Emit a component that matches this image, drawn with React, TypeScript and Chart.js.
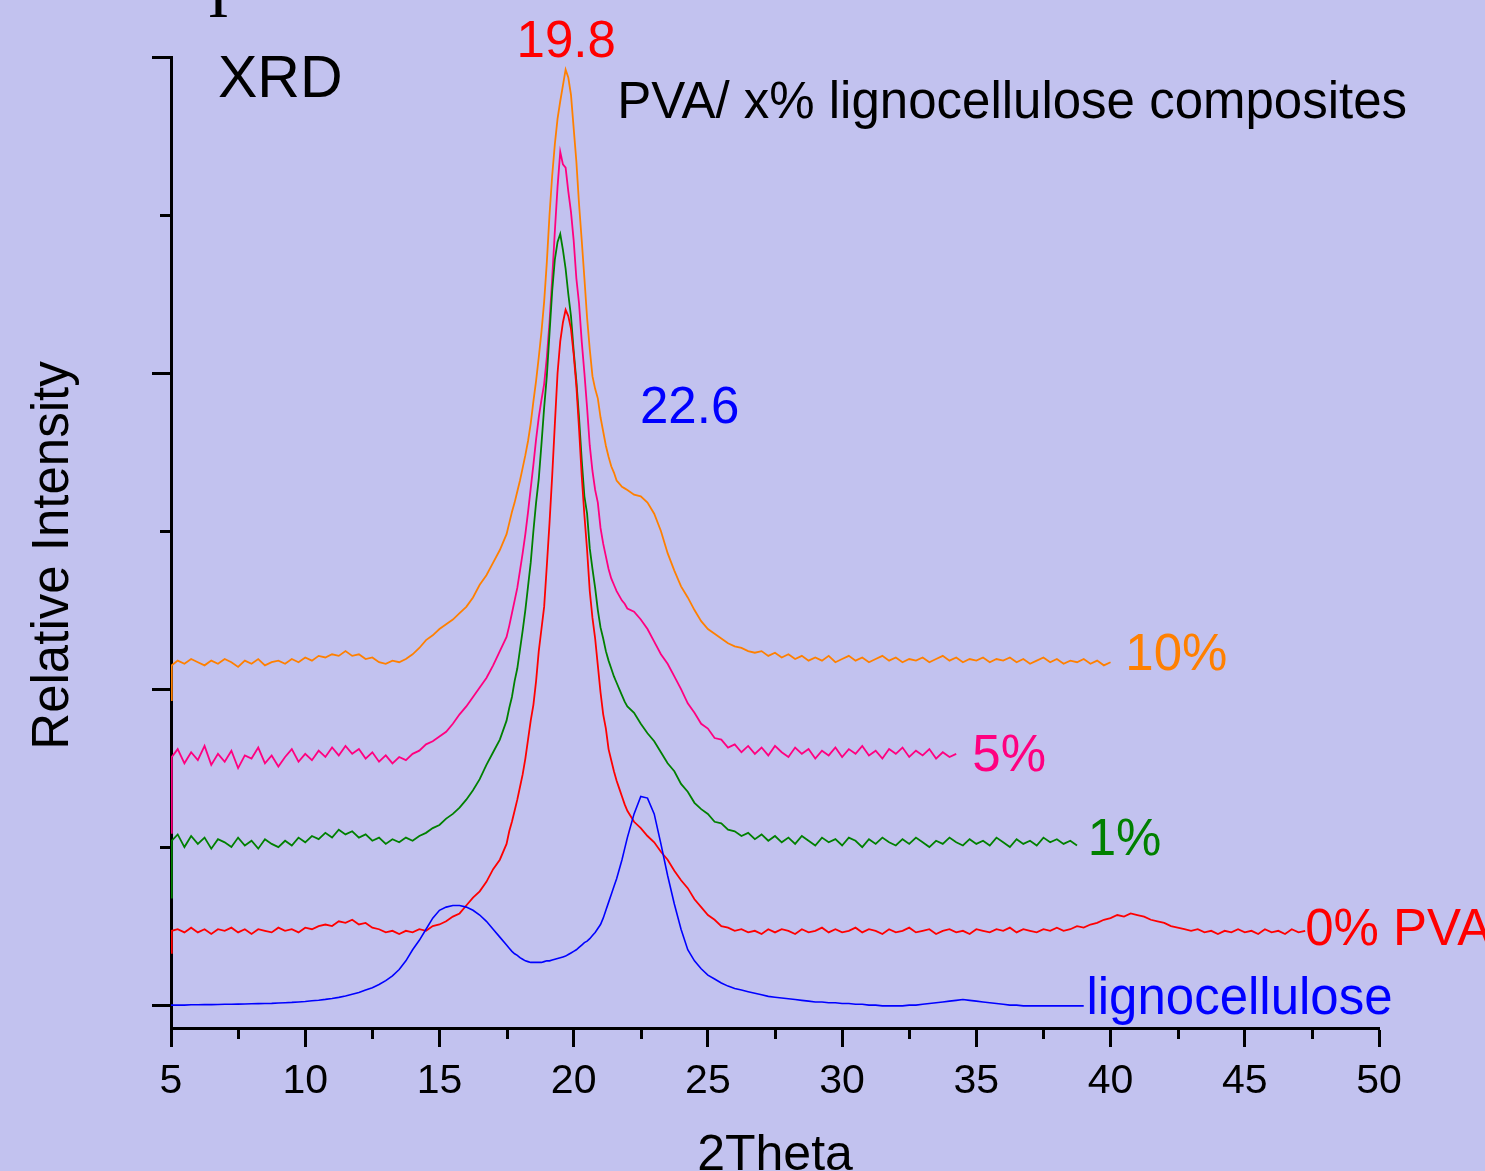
import React, { useEffect, useRef } from "react";
import { Chart, registerables } from "chart.js";

Chart.register(...registerables);

const FONT = '"Liberation Sans", Arial, Helvetica, sans-serif';

// 2Theta grid (degrees), in three segments
const X_A = [5, 5.03,
  5.25, 5.5, 5.75, 6,
  6.25, 6.5, 6.75, 7,
  7.25, 7.5, 7.75, 8,
  8.25, 8.5, 8.75, 9,
  9.25, 9.5, 9.75, 10,
  10.25, 10.5, 10.75, 11,
  11.25, 11.5, 11.75, 12,
  12.25, 12.5, 12.75, 13,
  13.25, 13.5, 13.75, 14,
  14.25, 14.5, 14.75, 15,
  15.25, 15.5, 15.75, 16,
  16.25, 16.5, 16.75, 17,
  17.25];
const X_B = [17.5, 17.6, 17.7, 17.8, 17.9,
  18.0, 18.1, 18.2, 18.3, 18.4,
  18.5, 18.6, 18.7, 18.8, 18.9,
  19.0, 19.1, 19.2, 19.3, 19.4,
  19.5, 19.6, 19.7, 19.8, 19.9,
  20.0, 20.1, 20.2, 20.3, 20.4,
  20.5, 20.6, 20.7, 20.8, 20.9,
  21.0, 21.1, 21.2, 21.3, 21.4,
  21.5, 21.6, 21.7, 21.8, 21.9,
  22.0];
const X_C = [22.25, 22.5, 22.75, 23,
  23.25, 23.5, 23.75, 24,
  24.25, 24.5, 24.75, 25,
  25.25, 25.5, 25.75, 26,
  26.25, 26.5, 26.75, 27,
  27.25, 27.5, 27.75, 28,
  28.25, 28.5, 28.75, 29,
  29.25, 29.5, 29.75, 30,
  30.25, 30.5, 30.75, 31,
  31.25, 31.5, 31.75, 32,
  32.25, 32.5, 32.75, 33,
  33.25, 33.5, 33.75, 34,
  34.25, 34.5, 34.75, 35,
  35.25, 35.5, 35.75, 36,
  36.25, 36.5, 36.75, 37,
  37.25, 37.5, 37.75, 38,
  38.25, 38.5, 38.75, 39,
  39.25, 39.5, 39.75, 40,
  40.25, 40.5, 40.75, 41,
  41.25, 41.5, 41.75, 42,
  42.25, 42.5, 42.75, 43,
  43.25, 43.5, 43.75, 44,
  44.25, 44.5, 44.75, 45,
  45.25, 45.5, 45.75, 46,
  46.25, 46.5, 46.75, 47,
  47.25];

// lignocellulose (blue)
const LIGNO_A = [0, 0,
  0, 0, 0.2, 0.2,
  0.3, 0.3, 0.4, 0.5,
  0.5, 0.6, 0.7, 0.8,
  0.9, 1, 1.1, 1.3,
  1.5, 1.7, 2, 2.3,
  2.7, 3.1, 3.6, 4.2,
  4.9, 5.7, 6.8, 8,
  9.5, 11, 13, 15.5,
  18.5, 22.5, 28, 35,
  41, 48, 55, 60,
  62, 63, 63, 62,
  60, 57, 53, 48,
  43];
const LIGNO_B = [38, 36, 34, 32.5, 31.5,
  30, 29, 28, 27.5, 27,
  27, 27, 27, 27, 27.5,
  28, 28, 28.5, 29, 29.5,
  30, 30.5, 31, 32, 33,
  34, 35, 36.5, 38, 39.5,
  40.5, 42, 44, 46, 48.5,
  51, 55, 60, 65, 70,
  75, 80, 86, 92, 99,
  106];
const LIGNO_C = [121, 132, 131, 121,
  102, 82, 64, 48,
  35, 28, 23, 19,
  16.5, 14, 12, 10.5,
  9.5, 8.5, 7.5, 6.5,
  5.5, 5, 4.5, 4,
  3.5, 3, 2.5, 2,
  2, 1.5, 1.5, 1,
  1, 0.5, 0.5, 0,
  0, -0.5, -0.5, -0.5,
  -0.5, 0, 0, 0.5,
  1, 1.5, 2, 2.5,
  3, 3.5, 3, 2.5,
  2, 1.5, 1, 0.5,
  0, 0, -0.5, -0.5,
  -0.5, -0.5, -0.5, -0.5,
  -0.5, -0.5, -0.5, -0.5];

// 0% PVA (red)
const PVA0_A = [33, 47,
  48, 46, 49, 46,
  48, 45, 48, 47,
  49, 46, 48, 45,
  48, 47, 46, 49,
  47, 48, 46, 49,
  48, 50, 51, 50,
  53, 52, 54, 51,
  52, 49, 48, 46,
  47, 45, 47, 46,
  48, 47, 50, 51,
  53, 56, 58, 63,
  68, 72, 78, 86,
  92];
const PVA0_B = [102, 110, 116, 123, 130,
  138, 146, 156, 168, 180,
  190, 205, 224, 238, 252,
  278, 305, 335, 368, 400,
  420, 432, 440, 436, 428,
  412, 392, 365, 335, 310,
  288, 262, 245, 232, 215,
  198, 184, 175, 162, 155,
  148, 142, 137, 132, 127,
  123];
const PVA0_C = [116, 112, 107, 103,
  97, 92, 85, 79,
  74, 67, 62, 57,
  54, 50, 49, 47,
  48, 46, 47, 45,
  48, 46, 48, 47,
  45, 48, 46, 47,
  49, 46, 48, 46,
  47, 49, 46, 48,
  47, 45, 48, 46,
  47, 49, 46, 47,
  48, 45, 47, 48,
  46, 47, 45, 48,
  47, 46, 48, 47,
  49, 46, 48, 47,
  46, 48, 47, 49,
  47, 48, 50, 49,
  51, 52, 54, 55,
  57, 56, 58, 57,
  56, 54, 53, 52,
  50, 49, 48, 47,
  48, 46, 47, 45,
  47, 46, 48, 46,
  47, 45, 48, 46,
  47, 45, 48, 46,
  47];

// 1% (green)
const P1_A = [68, 104,
  108, 100, 107, 102,
  106, 99, 105, 103,
  100, 106, 101, 104,
  99, 105, 102, 100,
  104, 101, 106, 103,
  107, 105, 109, 106,
  111, 108, 110, 106,
  108, 104, 106, 102,
  105, 103, 106, 104,
  107, 109, 112, 114,
  118, 121, 125, 130,
  136, 143, 152, 160,
  168];
const P1_B = [180, 188, 195, 205, 213,
  225, 237, 250, 265, 280,
  300, 318, 333, 355, 378,
  398, 425, 452, 472, 483,
  488, 478, 466, 450, 436,
  414, 395, 372, 345, 322,
  311, 289, 276, 264, 250,
  239, 232, 224, 218, 213,
  208, 204, 200, 196, 192,
  189];
const P1_C = [185, 178, 172, 167,
  160, 153, 148, 140,
  135, 128, 124, 121,
  116, 115, 111, 110,
  107, 109, 105, 108,
  104, 107, 103, 106,
  102, 107, 104, 101,
  106, 103, 105, 101,
  106, 104, 100, 105,
  102, 106, 103, 101,
  105, 102, 106, 103,
  100, 104, 102, 106,
  103, 101, 105, 102,
  104, 101, 106, 103,
  100, 105, 102, 104,
  101, 106, 103, 105,
  102, 104, 101];

// 5% (pink)
const P5_A = [109, 157,
  162, 153, 160, 155,
  164, 152, 159, 154,
  161, 150, 158, 156,
  163, 153, 158, 151,
  157, 162, 154, 159,
  155, 161, 157, 163,
  158, 164, 159, 162,
  156, 160, 154, 158,
  153, 157, 155, 159,
  161, 165, 167, 170,
  173, 178, 184, 189,
  195, 201, 207, 215,
  224];
const P5_B = [233, 240, 248, 256, 264,
  275, 286, 298, 312, 327,
  342, 358, 372, 383, 393,
  410, 432, 460, 490, 518,
  540, 532, 530, 515, 502,
  484, 460, 444, 420, 400,
  378, 354, 338, 326, 318,
  302, 292, 284, 276, 270,
  266, 262, 259, 256, 254,
  251];
const P5_C = [249, 244, 238, 230,
  222, 216, 208, 200,
  191, 185, 178, 175,
  169, 168, 163, 165,
  160, 164, 159, 163,
  158, 164, 160, 157,
  163, 159, 162, 156,
  161, 158, 163, 157,
  162, 159, 164, 158,
  161, 156, 162, 159,
  163, 157, 161, 158,
  162, 156, 160, 157,
  159];

// 10% (orange)
const P10_A = [193, 215,
  218, 216, 219, 217,
  215, 218, 216, 219,
  217, 214, 218, 216,
  219, 215, 217, 218,
  216, 219, 217, 220,
  218, 221, 220, 222,
  221, 224, 221, 222,
  219, 220, 217, 216,
  218, 217, 219, 222,
  226, 231, 234, 238,
  241, 244, 248, 252,
  258, 266, 272, 280,
  288];
const P10_B = [298, 305, 312, 318, 325,
  332, 340, 348, 357, 368,
  382, 395, 410, 426, 445,
  470, 500, 525, 545, 561,
  572, 582, 592, 587, 576,
  555, 534, 507, 484, 460,
  435, 415, 398, 390, 384,
  372, 363, 354, 347, 341,
  337, 332, 330, 328, 327,
  326];
const P10_C = [323, 322, 318, 311,
  300, 286, 275, 265,
  258, 250, 243, 238,
  235, 232, 229, 227,
  226, 224, 223, 224,
  221, 223, 220, 222,
  219, 221, 218, 220,
  218, 221, 217, 219,
  221, 218, 220, 217,
  219, 221, 218, 220,
  217, 219, 218, 220,
  217, 219, 221, 218,
  220, 217, 219, 218,
  220, 217, 219, 218,
  220, 217, 219, 216,
  218, 220, 217, 219,
  216, 218, 217, 219,
  216, 218, 215, 217];

const SERIES_NAMES = ["lignocellulose", "0% PVA", "1%", "5%", "10%"];
const SERIES_COLORS = ["#0000FF", "#FF0000", "#008000", "#FF0080", "#FF8000"];

const X_TICKS = [5, 10, 15, 20, 25, 30, 35, 40, 45, 50];
const X_MINOR = [7.5, 12.5, 17.5, 22.5, 27.5, 32.5, 37.5, 42.5, 47.5];
const Y_TICKS = [0, 200, 400, 600];
const Y_MINOR = [100, 300, 500];

// annotation texts and their data-space anchors
const NOTE_TEXT = ["19.8", "22.6", "XRD", "PVA/ x% lignocellulose composites", "10%", "5%", "1%", "0% PVA", "lignocellulose"];
const NOTE_X = [19.72, 24.32, 6.75, 21.62, 40.55, 34.85, 39.15, 47.25, 39.1];
const NOTE_Y = [609, 377, 585, 570, 221, 157, 104, 47, 3];
const NOTE_COLOR = ["#FF0000", "#0000FF", "#000000", "#000000", "#FF8000", "#FF0080", "#008000", "#FF0000", "#0000FF"];
const NOTE_ALIGN = ["center", "center", "left", "left", "left", "left", "left", "left", "left"];
const NOTE_SIZE = [51, 51, 59, 51, 51, 51, 51, 51, 51];

function build(a: number[], b: number[], c: number[]) {
  return [
    ...a.map((y, i) => ({ x: X_A[i], y })),
    ...b.map((y, i) => ({ x: X_B[i], y })),
    ...c.map((y, i) => ({ x: X_C[i], y })),
  ];
}

const SERIES_DATA = [
  build(LIGNO_A, LIGNO_B, LIGNO_C),
  build(PVA0_A, PVA0_B, PVA0_C),
  build(P1_A, P1_B, P1_C),
  build(P5_A, P5_B, P5_C),
  build(P10_A, P10_B, P10_C),
];

const decorPlugin = {
  id: "decor",
  afterDraw(chart: any) {
    const { ctx, chartArea } = chart;
    const xs = chart.scales.x;
    const ys = chart.scales.y;
    ctx.save();
    // minor ticks
    ctx.strokeStyle = "#000";
    ctx.lineWidth = 3;
    X_MINOR.forEach((v) => {
      const px = Math.round(xs.getPixelForValue(v)) + 0.5;
      ctx.beginPath();
      ctx.moveTo(px, chartArea.bottom);
      ctx.lineTo(px, chartArea.bottom + 11);
      ctx.stroke();
    });
    Y_MINOR.forEach((v) => {
      const py = Math.round(ys.getPixelForValue(v)) + 0.5;
      ctx.beginPath();
      ctx.moveTo(chartArea.left - 11, py);
      ctx.lineTo(chartArea.left, py);
      ctx.stroke();
    });
    // annotations
    ctx.textBaseline = "middle";
    NOTE_TEXT.forEach((t, i) => {
      ctx.font = `${NOTE_SIZE[i]}px ${FONT}`;
      ctx.fillStyle = NOTE_COLOR[i];
      ctx.textAlign = NOTE_ALIGN[i];
      ctx.fillText(t, xs.getPixelForValue(NOTE_X[i]), ys.getPixelForValue(NOTE_Y[i]));
    });
    // y axis title
    ctx.save();
    ctx.translate(chartArea.left - 117, (chartArea.top + chartArea.bottom) / 2 + 13);
    ctx.rotate(-Math.PI / 2);
    ctx.font = `51px ${FONT}`;
    ctx.fillStyle = "#000";
    ctx.textAlign = "center";
    ctx.textBaseline = "middle";
    ctx.fillText("Relative Intensity", 0, 0);
    ctx.restore();
    // clipped serif glyph at top edge
    ctx.font = `64px "Liberation Serif", "Times New Roman", serif`;
    ctx.fillStyle = "#000";
    ctx.textAlign = "center";
    ctx.textBaseline = "alphabetic";
    ctx.fillText("I", xs.getPixelForValue(6.77), 17);
    ctx.restore();
  },
};

export default function App() {
  const ref = useRef<HTMLCanvasElement | null>(null);
  useEffect(() => {
    if (!ref.current) return;
    const chart = new Chart(ref.current, {
      type: "line",
      data: {
        datasets: SERIES_DATA.map((d, i) => ({
          label: SERIES_NAMES[i],
          data: d,
          borderColor: SERIES_COLORS[i],
          backgroundColor: SERIES_COLORS[i],
          borderWidth: i === 0 ? 1.6 : 1.8,
          pointRadius: 0,
          tension: 0,
          fill: false,
        })),
      },
      options: {
        responsive: false,
        animation: false,
        devicePixelRatio: 1,
        layout: { padding: { top: 57, right: 106, left: 0, bottom: 0 } },
        plugins: { legend: { display: false }, tooltip: { enabled: false } },
        scales: {
          x: {
            type: "linear",
            min: 5,
            max: 50,
            afterBuildTicks: (s: any) => {
              s.ticks = X_TICKS.map((v) => ({ value: v }));
            },
            afterFit: (s: any) => {
              s.height = 143;
            },
            ticks: {
              color: "#000",
              font: { family: FONT, size: 41 },
              padding: 10,
              maxRotation: 0,
              autoSkip: false,
            },
            grid: {
              drawOnChartArea: false,
              drawTicks: true,
              tickLength: 19,
              tickWidth: 3,
              tickColor: "#000",
            },
            border: { display: true, color: "#000", width: 3 },
            title: {
              display: true,
              text: "2Theta",
              color: "#000",
              font: { family: FONT, size: 50, lineHeight: 1 },
              padding: { top: 0, bottom: -10 },
            },
          },
          y: {
            type: "linear",
            min: -14.5,
            max: 600,
            afterBuildTicks: (s: any) => {
              s.ticks = Y_TICKS.map((v) => ({ value: v }));
            },
            afterFit: (s: any) => {
              s.width = 171;
            },
            ticks: { display: false },
            grid: {
              drawOnChartArea: false,
              drawTicks: true,
              tickLength: 19,
              tickWidth: 3,
              tickColor: "#000",
            },
            border: { display: true, color: "#000", width: 3 },
          },
        },
      } as any,
      plugins: [decorPlugin],
    });
    return () => chart.destroy();
  }, []);

  return (
    <div
      style={{
        position: "absolute",
        left: 0,
        top: 0,
        width: 1485,
        height: 1171,
        background: "#C2C2EF",
        overflow: "hidden",
      }}
    >
      <canvas ref={ref} width={1485} height={1171} style={{ display: "block" }} />
    </div>
  );
}
